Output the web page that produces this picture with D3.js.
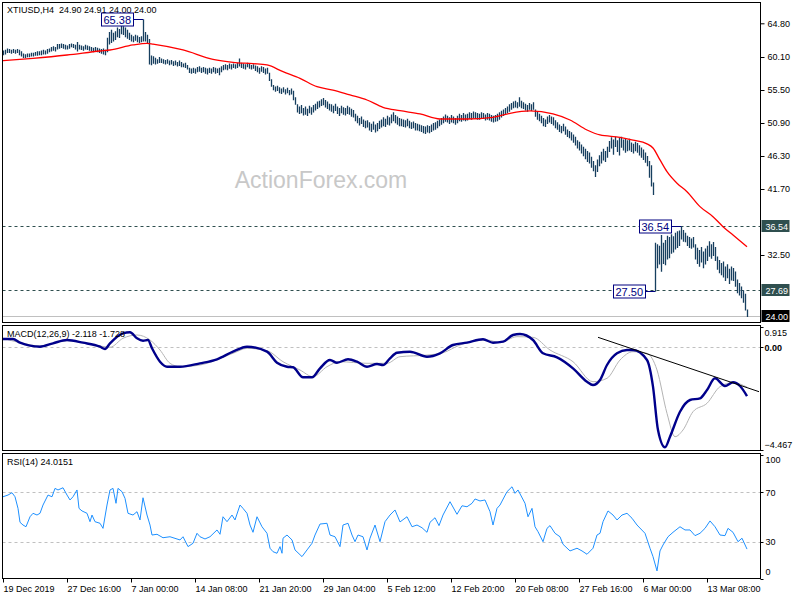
<!DOCTYPE html>
<html><head><meta charset="utf-8">
<script src="https://cdn.jsdelivr.net/npm/d3@7"></script>
<style>body{margin:0;background:#fff}svg text{font-family:"Liberation Sans",Arial,sans-serif;white-space:pre}</style>
</head><body><svg id="c" width="800" height="600"></svg>
<script>
// ---------------- data ----------------
const titleText = "XTIUSD,H4  24.90 24.91 24.00 24.00";
const macdTitle = "MACD(12,26,9) -2.118 -1.728";
const rsiTitle = "RSI(14) 24.0151";
const watermark = "ActionForex.com";
const xLabels = ["19 Dec 2019","27 Dec 16:00","7 Jan 00:00","14 Jan 08:00","21 Jan 20:00","29 Jan 04:00","5 Feb 12:00","12 Feb 20:00","20 Feb 08:00","27 Feb 16:00","6 Mar 00:00","13 Mar 08:00"];
const xLabelIdx = [0,32,64,96,128,160,192,224,256,288,320,352];
const highs = [
61.0,61.1,61.3,61.2,61.1,61.2,61.1,61.2,61.1,
60.9,60.6,60.5,60.6,60.6,60.7,60.7,60.8,60.9,
60.9,61.0,61.1,61.0,61.2,61.3,61.5,61.6,61.5,
61.9,61.9,62.0,61.9,61.8,61.7,61.9,62.0,61.9,61.8,
62.2,
61.8,61.7,61.6,61.8,61.7,61.6,61.5,61.4,61.5,61.4,61.3,61.2,61.3,61.1,
62.8,63.6,63.9,63.5,63.7,
64.2,64.0,
64.6,64.4,64.2,63.9,
63.5,63.2,63.0,63.2,63.1,62.9,63.0,
65.38,
63.6,63.2,
62.6,60.3,
60.2,60.0,59.8,60.1,59.9,59.8,
59.7,59.8,59.6,59.7,59.5,59.6,59.4,59.6,59.4,59.2,59.3,59.0,
58.6,58.5,58.6,58.5,58.7,58.8,58.6,58.7,58.6,58.5,58.6,58.5,58.7,58.6,58.5,58.6,
58.8,59.0,59.1,59.0,59.2,59.1,59.2,59.1,59.3,
59.9,
59.3,59.2,59.1,59.3,59.2,59.0,59.1,
58.9,58.8,58.6,58.8,58.7,58.5,58.6,
57.9,57.0,
56.2,56.0,56.1,55.9,55.7,55.9,55.6,55.8,55.5,55.7,
55.4,54.5,
53.5,53.2,53.4,53.0,53.2,52.9,53.3,53.1,53.4,
53.6,53.9,54.0,54.2,54.4,54.1,53.9,53.6,
53.5,53.3,53.6,53.2,53.0,53.3,53.1,
53.0,53.3,53.1,52.9,52.7,
52.2,51.9,51.6,51.8,51.4,51.2,51.3,
51.0,50.8,51.1,50.7,50.9,51.2,
51.4,51.7,51.5,51.9,51.7,
52.1,52.4,52.0,51.8,51.6,
51.5,51.4,51.3,51.5,51.2,51.0,51.1,50.9,50.8,
50.7,50.6,50.5,50.4,50.6,50.5,50.7,50.9,51.0,51.2,51.4,
51.6,51.8,52.1,51.9,51.7,52.0,51.8,51.6,51.9,52.2,52.0,52.3,52.1,52.2,
52.4,52.3,52.5,52.4,52.3,52.2,52.4,52.3,52.1,52.3,52.2,52.0,51.9,
52.0,52.2,52.4,
52.6,52.8,53.0,53.2,53.5,53.7,53.9,54.0,53.8,54.5,
54.0,53.8,53.6,53.4,53.7,53.5,53.8,
52.8,52.5,52.2,51.9,51.6,51.4,51.8,52.0,51.8,51.7,51.3,51.0,
50.7,50.5,50.8,50.4,50.0,49.8,49.6,49.3,
49.0,48.5,48.3,47.9,47.6,47.3,47.0,
46.8,46.2,45.6,45.0,45.8,
46.4,46.9,47.3,47.0,47.6,
48.4,48.9,48.6,49.0,48.5,48.8,49.0,48.6,48.8,48.5,48.7,
48.2,48.0,48.3,48.1,47.8,47.5,47.2,46.8,46.3,
45.6,45.0,42.6,
34.2,
34.0,33.8,35.3,34.2,34.6,35.2,35.0,35.4,35.1,35.6,35.8,
35.9,36.54,36.0,
35.6,35.2,35.0,34.8,35.0,
34.0,33.5,33.2,33.6,33.0,33.4,33.8,
34.4,34.0,34.3,33.6,
32.3,31.8,31.4,31.6,30.9,31.2,30.6,30.9,30.7,
30.2,29.1,28.6,
28.1,27.6,27.1,24.91];
const lows = [
60.5,60.6,60.8,60.8,60.7,60.8,60.7,60.8,60.5,
60.3,60.1,60.1,60.2,60.2,60.3,60.3,60.4,60.4,
60.5,60.5,60.6,60.6,60.7,60.9,61.0,61.1,61.0,
61.3,61.4,61.5,61.4,61.3,61.3,61.4,61.6,61.5,61.3,
61.0,
61.3,61.2,61.1,61.3,61.2,61.1,61.0,60.9,61.0,60.9,60.8,60.7,60.6,60.5,
60.9,62.0,62.2,62.4,62.6,
63.0,62.9,
63.4,63.3,63.0,62.8,
62.6,62.4,62.3,62.5,62.3,62.2,62.3,
62.4,
62.4,62.2,
59.2,59.1,
59.3,59.2,59.3,59.4,59.4,59.3,
59.2,59.3,59.1,59.2,59.0,59.1,58.9,59.0,58.8,58.8,58.7,58.5,
58.0,57.9,58.0,57.9,58.1,58.2,58.0,58.1,57.9,57.8,58.0,57.9,58.1,57.9,58.0,57.7,
58.1,58.4,58.5,58.4,58.6,58.5,58.7,58.6,58.7,
58.9,
58.7,58.6,58.5,58.8,58.6,58.5,58.6,
58.3,58.1,57.9,58.2,58.0,57.8,57.9,
56.9,56.1,
55.6,55.4,55.5,55.2,55.1,55.3,55.0,55.2,54.9,55.0,
54.2,53.6,
52.5,52.3,52.4,52.1,52.2,52.0,52.4,52.2,52.5,
52.8,53.0,53.2,53.4,53.5,53.2,53.0,52.8,
52.6,52.4,52.7,52.3,52.0,52.4,52.2,
52.1,52.3,52.2,51.9,51.8,
51.3,51.0,50.7,50.9,50.5,50.3,50.4,
50.0,49.8,50.1,49.7,49.9,50.2,
50.4,50.6,50.5,50.8,50.7,
51.0,51.3,51.0,50.8,50.6,
50.6,50.5,50.4,50.6,50.3,50.2,50.3,50.0,50.0,
49.9,49.8,49.6,49.5,49.7,49.6,49.8,50.0,50.1,50.3,50.6,
50.8,51.0,51.2,51.1,50.9,51.1,51.0,50.8,51.0,51.3,51.2,51.4,51.3,51.4,
51.6,51.5,51.7,51.6,51.5,51.5,51.6,51.6,51.4,51.5,51.4,51.2,51.1,
51.2,51.3,51.5,
51.8,52.0,52.2,52.4,52.6,52.9,53.1,53.2,53.1,53.3,
53.1,53.0,52.8,52.6,52.9,52.7,52.9,
51.9,51.5,51.3,51.0,50.6,50.5,50.9,51.1,50.9,50.7,50.3,50.1,
49.8,49.6,49.9,49.4,49.1,48.9,48.6,48.3,
47.9,47.5,47.2,46.8,46.4,46.0,45.6,
45.4,44.8,44.3,43.5,44.2,
45.0,45.4,45.8,45.6,46.2,
47.0,47.5,46.6,47.7,47.0,46.5,47.6,47.2,46.9,47.1,47.2,
47.0,46.8,47.1,46.9,46.5,46.2,45.9,45.5,45.0,
43.4,42.2,41.0,
27.50,
30.8,31.3,30.3,31.4,31.2,32.0,32.2,32.8,33.0,33.4,33.6,
33.9,34.8,34.5,
34.4,33.9,33.6,33.5,33.7,
32.0,31.4,31.0,31.6,30.8,31.3,31.8,
32.4,32.1,32.5,31.8,
30.6,30.1,29.8,29.5,29.0,29.4,28.6,29.1,29.0,
28.2,27.3,27.0,
26.6,26.0,24.9,24.00];
const maIdx = [0,15,32,48.5,53.5,65,72,75,90,105,115,125,132,140,148.5,157,165,173.5,182,190,198.5,208.5,218.5,232,245,253.5,263.5,275,283.5,292,298.5,308.5,315,322,325,328.5,332,337,342,348.5,355,360,365,372];
const maVal = [59.59,59.92,60.38,60.94,61.08,61.78,62.01,61.91,61.08,59.78,59.36,59.17,58.99,58.05,57.13,55.96,55.50,54.81,54.11,53.09,52.62,52.16,51.46,51.46,51.70,52.25,52.58,52.16,51.32,49.93,49.23,48.91,48.53,48.0,47.42,45.75,44.11,42.50,41.33,39.24,37.84,36.45,35.29,33.66];
const macdIdx = [0,5,8.5,18.5,25,32,40,48.5,51,53.5,60,63.5,67,70,72.5,74.5,78.5,82,88.5,98.5,107,115,122,132,137,142,145,150,154.5,158.5,163.5,167,172.5,177,182,187,190,193.5,197,203.5,212,218.5,225,232,240,245,250,255,258.5,265,270,277,285,292,295,298.5,302,307,312,315,322,325,327.5,331,333.5,338.5,343.5,348.5,352,356,361,365,368.5,372];
const macdVal = [0.37,0.37,0.21,0.035,0.183,0.327,0.21,0.035,-0.065,0.183,0.619,0.662,0.401,0.296,0.327,-0.035,-0.619,-0.837,-0.837,-0.689,-0.514,-0.183,0.035,-0.183,-0.663,-0.837,-0.863,-1.299,-1.299,-0.907,-0.545,-0.663,-0.514,-0.619,-0.837,-0.719,-0.763,-0.471,-0.227,-0.183,-0.401,-0.253,0.109,0.21,0.357,0.21,0.253,0.545,0.588,0.327,-0.253,-0.427,-0.907,-1.491,-1.634,-1.416,-0.763,-0.253,-0.109,-0.109,-0.545,-1.708,-3.595,-4.35,-3.887,-2.798,-2.288,-2.214,-1.852,-1.342,-1.678,-1.517,-1.678,-2.118];
const sigIdx = [0,8.5,18.5,32,48.5,53.5,60,67,73.5,78.5,83.5,88.5,98.5,115,122,132,140,148.5,155,162,168.5,182,192,198.5,212,220,228.5,242,248.5,257,265,273.5,285,295,302,308.5,315,322,327,332,336,340,345,352,358.5,365,372];
const sigVal = [0.401,0.21,0.066,0.30,0.066,0.01,0.401,0.545,0.327,-0.109,-0.689,-0.837,-0.763,-0.253,-0.037,-0.14,-0.619,-0.981,-1.272,-0.837,-0.619,-0.689,-0.689,-0.401,-0.33,-0.23,0.109,0.327,0.21,0.472,0.443,-0.109,-0.619,-1.491,-1.342,-0.545,-0.183,-0.253,-0.981,-2.871,-3.887,-3.595,-2.798,-2.432,-1.708,-1.53,-1.728];
const trendIdx = [297.5,378];
const trendVal = [0.444,-1.926];
const rsiIdx = [0,2.5,4.5,6,7.5,8.5,10,11.5,13.5,15,17,18.5,20,22.5,24.5,26,27.5,30,32,33.5,35,37,38,39.5,42,43.5,44.5,46,48.5,50,52,53.5,55,56.5,57.5,59.5,61,62.5,65,67,68.5,70,72,73.5,74.5,77,80,83.5,88.5,90,92.5,95,97,98.5,101,103.5,107,108.5,110,112,114.5,116,118.5,120,122,123.5,125,127,129.5,132,133.5,135,137,138.5,139.5,140,142,144.5,146,149.5,152,154.5,156,158.5,162,163.5,166,168.5,170,172.5,174.5,176,177.5,180,182,183.5,186,188.5,191,193.5,196,198.5,202,204.5,207,209.5,212,213.5,216,218,220,223.5,227,229.5,232,234.5,236,238.5,241,243.5,245,247,248.5,252,254.5,256,257.5,261,262.5,264.5,266,267.5,270,272,273.5,276,278.5,280,283.5,287,289.5,292,295,297,298.5,300,302.5,305,307,309.5,312,314.5,317,321,323.5,325,327,328.5,330,332.5,335,338.5,341,343.5,346,348.5,351,353.5,356,358.5,361,362.5,365,367.5,369.5,372];
const rsiVal = [66.4,67.8,69.7,66.4,57.0,45.7,43.5,42.1,50.2,53.0,51.6,53.0,59.7,67.8,66.4,73.2,71.9,73.7,67.8,63.8,66.4,71.9,57.0,54.9,53.0,46.2,51.6,46.2,44.9,40.8,59.7,71.9,73.2,61.1,73.2,70.5,65.1,53.0,51.6,54.3,47.6,65.6,51.6,43.5,35.4,36.0,33.2,34.0,31.4,34.0,26.0,28.7,36.8,34.0,32.2,34.0,39.5,36.0,50.2,46.2,51.6,47.6,59.7,57.0,53.0,43.5,37.6,50.2,42.1,36.8,24.7,21.9,20.6,26.0,20.6,32.8,35.4,31.4,23.3,17.9,23.3,28.7,35.4,44.3,44.9,35.4,34.0,26.0,43.5,44.9,35.4,30.0,35.4,34.0,23.3,32.8,43.5,30.0,46.2,51.6,55.7,46.0,50.2,42.1,43.5,41.3,37.6,45.7,49.4,43.0,51.6,62.4,52.2,59.1,58.3,61.1,64.6,63.0,63.8,54.3,43.5,57.0,59.7,70.5,74.5,69.2,71.9,61.1,50.2,57.0,42.1,38.1,30.0,40.8,43.0,36.8,34.0,27.9,22.5,24.7,22.5,19.8,24.7,35.4,36.8,46.2,54.9,51.6,47.6,51.6,53.0,49.0,43.5,36.8,24.7,17.9,6.3,22.5,27.3,34.0,37.6,42.1,39.5,39.5,34.9,36.8,40.8,46.8,42.1,35.4,34.9,40.8,37.6,30.0,32.8,24.0];
const priceTicks = [64.80,60.10,55.50,50.90,46.30,41.70,32.50];
const levelLines = [36.54,27.69];
const markIdx = [70,339,326];
const markVal = [65.38,36.54,27.50];
const lastPrice = 24.00;
const macdTicks = [0.915,0.00,-4.467];
const rsiTicks = [100,70,30,0];
const rsiLevels = [70,30];

// ---------------- drawing ----------------
const svg = d3.select("#c");
const L = 2.5, R = 760.5;
const P1 = {t:2.5, b:322.5}, P2 = {t:325.5, b:450.5}, P3 = {t:453.5, b:578.5};
const x = d3.scaleLinear().domain([0,372]).range([3,747]);
const yP = d3.scaleLinear().domain([23.16,67.63]).range([322,3]);
const yM = d3.scaleLinear().domain([-4.467,0.915]).range([450,326.5]);
const yR = d3.scaleLinear().domain([0,100]).range([578.7,455.3]);
const FS = 9;

function clip(id,p){svg.append("clipPath").attr("id",id).append("rect").attr("x",L).attr("y",p.t).attr("width",R-L).attr("height",p.b-p.t);}
clip("c1",P1);clip("c2",P2);clip("c3",P3);

// watermark
svg.append("text").attr("x",321).attr("y",188).attr("text-anchor","middle")
  .attr("font-size",23).attr("fill","#c8c8c8").text(watermark);
// header
svg.append("text").attr("x",7).attr("y",13).attr("font-size",FS).attr("fill","#000")
  .attr("xml:space","preserve").text(titleText);

const g1 = svg.append("g").attr("clip-path","url(#c1)");
g1.selectAll(".lvl").data(levelLines).join("line")
  .attr("x1",L).attr("x2",R).attr("y1",d=>Math.round(yP(d))+0.5).attr("y2",d=>Math.round(yP(d))+0.5)
  .attr("stroke","#2f4f4f").attr("stroke-dasharray","3,3");
g1.append("line").attr("x1",L).attr("x2",R).attr("y1",Math.round(yP(lastPrice))+0.5).attr("y2",Math.round(yP(lastPrice))+0.5)
  .attr("stroke","#c0c0c0");
g1.selectAll(".bar").data(highs).join("line")
  .attr("x1",(d,i)=>Math.round(x(i))+0.5).attr("x2",(d,i)=>Math.round(x(i))+0.5)
  .attr("y1",d=>yP(d)).attr("y2",(d,i)=>yP(lows[i])+1)
  .attr("stroke","#173f5f").attr("stroke-width",1.3);
g1.append("path").datum(maIdx.map((d,i)=>[d,maVal[i]]))
  .attr("d",d3.line().x(d=>x(d[0])).y(d=>yP(d[1])).curve(d3.curveMonotoneX))
  .attr("fill","none").attr("stroke","#ff0000").attr("stroke-width",1.3);
markVal.forEach((v,k)=>{
  const bx = x(markIdx[k]);
  const yy = Math.round(yP(v))+0.5;
  const t = g1.append("text").attr("font-size",11).attr("fill","#000080").text(v.toFixed(2));
  const w = t.node().getComputedTextLength();
  const right = bx-10, left = right-w-4;
  g1.insert("rect","text").attr("x",Math.round(left)+0.5).attr("y",yy-6.5).attr("width",Math.round(w+4)).attr("height",13)
    .attr("fill","#fff").attr("stroke","#000080");
  t.attr("x",left+2).attr("y",yy+4);
  g1.append("line").attr("x1",right).attr("x2",bx).attr("y1",yy).attr("y2",yy).attr("stroke","#000080");
});

// MACD panel
const g2 = svg.append("g").attr("clip-path","url(#c2)");
g2.append("line").attr("x1",L).attr("x2",R).attr("y1",Math.round(yM(0))+0.5).attr("y2",Math.round(yM(0))+0.5)
  .attr("stroke","#c0c0c0").attr("stroke-dasharray","3,3");
g2.append("path").datum(sigIdx.map((d,i)=>[d,sigVal[i]]))
  .attr("d",d3.line().x(d=>x(d[0])).y(d=>yM(d[1])).curve(d3.curveMonotoneX))
  .attr("fill","none").attr("stroke","#b4b4b4").attr("stroke-width",1);
g2.append("path").datum(macdIdx.map((d,i)=>[d,macdVal[i]]))
  .attr("d",d3.line().x(d=>x(d[0])).y(d=>yM(d[1])).curve(d3.curveMonotoneX))
  .attr("fill","none").attr("stroke","#00008b").attr("stroke-width",2.4);
g2.append("line").attr("x1",x(trendIdx[0])).attr("x2",x(trendIdx[1])).attr("y1",yM(trendVal[0])).attr("y2",yM(trendVal[1]))
  .attr("stroke","#000").attr("stroke-width",1);
svg.append("text").attr("x",7).attr("y",337).attr("font-size",FS).text(macdTitle);

// RSI panel
const g3 = svg.append("g").attr("clip-path","url(#c3)");
g3.selectAll(".rl").data(rsiLevels).join("line")
  .attr("x1",L).attr("x2",R).attr("y1",d=>Math.round(yR(d))+0.5).attr("y2",d=>Math.round(yR(d))+0.5)
  .attr("stroke","#c0c0c0").attr("stroke-dasharray","3,3");
g3.append("path").datum(rsiIdx.map((d,i)=>[d,rsiVal[i]]))
  .attr("d",d3.line().x(d=>x(d[0])).y(d=>yR(d[1])))
  .attr("fill","none").attr("stroke","#1e90ff").attr("stroke-width",1);
svg.append("text").attr("x",7).attr("y",465).attr("font-size",FS).text(rsiTitle);

// frames
[P1,P2,P3].forEach(p=>{
  svg.append("rect").attr("x",L).attr("y",p.t).attr("width",R-L).attr("height",p.b-p.t)
    .attr("fill","none").attr("stroke","#000");
});

// price axis
const ax = svg.append("g").attr("transform",`translate(${R},0)`)
  .call(d3.axisRight(yP).tickValues(priceTicks).tickSize(4).tickFormat(d3.format(".2f")));
ax.select(".domain").remove();
ax.selectAll("text").attr("font-size",FS).attr("fill","#000").attr("font-family","Liberation Sans, Arial");
ax.selectAll("line").attr("stroke","#000");
function axisBox(v,fill){
  const yy = Math.round(yP(v));
  svg.append("rect").attr("x",R+1).attr("y",yy-6).attr("width",28).attr("height",12).attr("fill",fill);
  svg.append("text").attr("x",R+5).attr("y",yy+3.5).attr("font-size",FS).attr("fill","#fff").text(v.toFixed(2));
}
levelLines.forEach(v=>axisBox(v,"#2f4f4f"));
axisBox(lastPrice,"#000");

// MACD axis labels
macdTicks.forEach(v=>{
  const yy = Math.min(Math.max(yM(v),P2.t+7),P2.b-6);
  svg.append("line").attr("x1",R).attr("x2",R+3).attr("y1",Math.round(yM(v))+0.5).attr("y2",Math.round(yM(v))+0.5).attr("stroke","#000");
  svg.append("text").attr("x",R+4).attr("y",yy+3.2).attr("font-size",FS).attr("font-weight",v===0?"bold":"normal").text(v===0?"0.00":d3.format(".3f")(v));
});
// RSI axis labels
rsiTicks.forEach(v=>{
  const yy = Math.min(Math.max(yR(v),P3.t+6.5),P3.b-7);
  svg.append("line").attr("x1",R).attr("x2",R+3).attr("y1",Math.round(yR(v))+0.5).attr("y2",Math.round(yR(v))+0.5).attr("stroke","#000");
  svg.append("text").attr("x",R+5).attr("y",yy+3.2).attr("font-size",FS).text(v);
});

// time axis
const xa = svg.append("g").attr("transform",`translate(0,${P3.b})`)
  .call(d3.axisBottom(x).tickValues(xLabelIdx).tickSize(4).tickFormat((d,i)=>xLabels[i]));
xa.select(".domain").remove();
xa.selectAll("text").attr("font-size",FS).attr("fill","#000").attr("text-anchor","start").attr("font-family","Liberation Sans, Arial");
xa.selectAll("line").attr("stroke","#000");
</script></body></html>
